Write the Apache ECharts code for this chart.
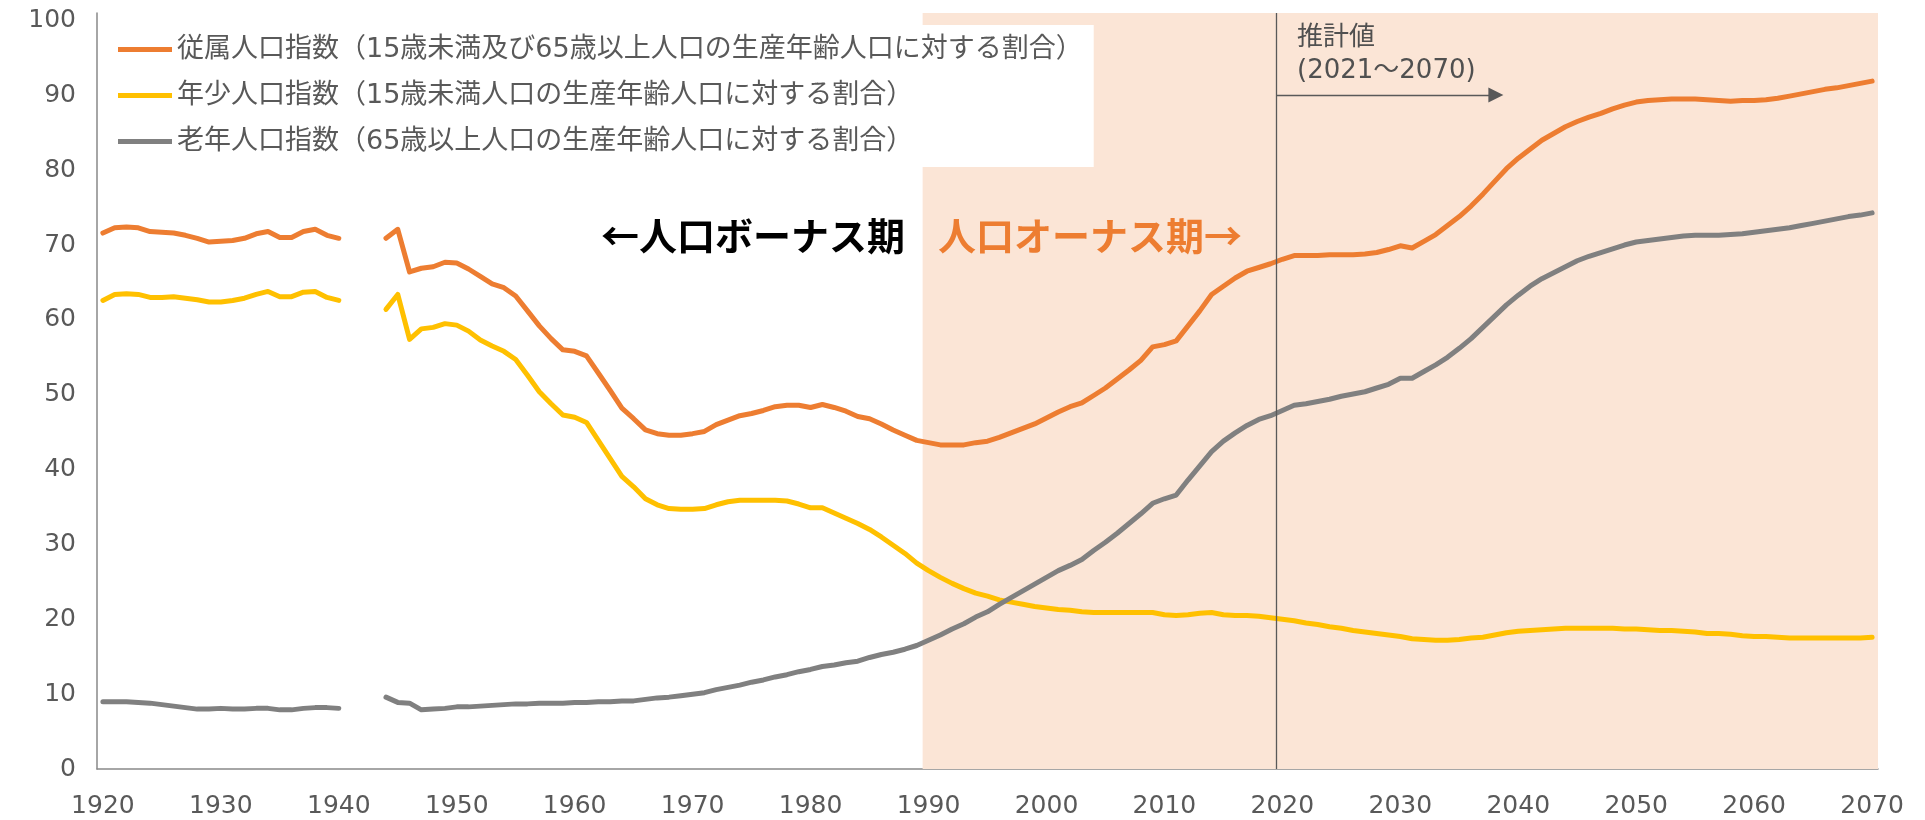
<!DOCTYPE html>
<html lang="ja">
<head>
<meta charset="UTF-8">
<title>従属人口指数の推移</title>
<script src="https://cdn.jsdelivr.net/npm/echarts@6/dist/echarts.min.js"></script>
<style>
  html, body { margin: 0; padding: 0; background: #fff; }
  #main { width: 1925px; height: 820px; }
</style>
</head>
<body>
<div id="main"></div>
<script>
// 年（カテゴリ）
var years = [];
for (var y = 1920; y <= 2070; y++) { years.push(String(y)); }

// 従属人口指数（1941〜1943はデータなし）
var dependency = [
  71.6, 72.3, 72.4, 72.3, 71.8, 71.7, 71.6, 71.3, 70.9, 70.4,
  70.5, 70.6, 70.9, 71.5, 71.8, 71.0, 71.0, 71.8, 72.1, 71.3,
  70.9, null, null, null, 70.9, 72.1, 66.4, 66.9, 67.1, 67.7,
  67.6, 66.8, 65.8, 64.8, 64.3, 63.2, 61.2, 59.2, 57.5, 56.0,
  55.8, 55.2, 52.9, 50.6, 48.2, 46.8, 45.3, 44.8, 44.6, 44.6,
  44.8, 45.1, 46.0, 46.6, 47.2, 47.5, 47.9, 48.4, 48.6, 48.6,
  48.3, 48.7, 48.3, 47.8, 47.1, 46.8, 46.1, 45.3, 44.6, 43.9,
  43.6, 43.3, 43.3, 43.3, 43.6, 43.8, 44.3, 44.9, 45.5, 46.1,
  46.9, 47.7, 48.4, 48.9, 49.9, 50.9, 52.1, 53.3, 54.6, 56.4,
  56.7, 57.2, 59.2, 61.2, 63.4, 64.5, 65.6, 66.5, 67.0, 67.5,
  68.1, 68.6, 68.6, 68.6, 68.7, 68.7, 68.7, 68.8, 69.0, 69.4,
  69.9, 69.6, 70.5, 71.4, 72.6, 73.8, 75.2, 76.8, 78.5, 80.2,
  81.6, 82.8, 84.0, 84.9, 85.8, 86.5, 87.1, 87.6, 88.2, 88.7,
  89.1, 89.3, 89.4, 89.5, 89.5, 89.5, 89.4, 89.3, 89.2, 89.3,
  89.3, 89.4, 89.6, 89.9, 90.2, 90.5, 90.8, 91.0, 91.3, 91.6,
  91.9
];

// 年少人口指数
var youth = [
  62.6, 63.4, 63.5, 63.4, 63.0, 63.0, 63.1, 62.9, 62.7, 62.4,
  62.4, 62.6, 62.9, 63.4, 63.8, 63.1, 63.1, 63.7, 63.8, 63.0,
  62.6, null, null, null, 61.4, 63.4, 57.4, 58.8, 59.0, 59.5,
  59.3, 58.5, 57.3, 56.5, 55.8, 54.7, 52.6, 50.4, 48.8, 47.3,
  47.0, 46.3, 43.9, 41.5, 39.1, 37.7, 36.1, 35.3, 34.8, 34.7,
  34.7, 34.8, 35.3, 35.7, 35.9, 35.9, 35.9, 35.9, 35.8, 35.4,
  34.9, 34.9, 34.2, 33.5, 32.8, 32.0, 31.0, 29.9, 28.8, 27.5,
  26.5, 25.6, 24.8, 24.1, 23.5, 23.1, 22.6, 22.3, 22.0, 21.7,
  21.5, 21.3, 21.2, 21.0, 20.9, 20.9, 20.9, 20.9, 20.9, 20.9,
  20.6, 20.5, 20.6, 20.8, 20.9, 20.6, 20.5, 20.5, 20.4, 20.2,
  20.0, 19.8, 19.5, 19.3, 19.0, 18.8, 18.5, 18.3, 18.1, 17.9,
  17.7, 17.4, 17.3, 17.2, 17.2, 17.3, 17.5, 17.6, 17.9, 18.2,
  18.4, 18.5, 18.6, 18.7, 18.8, 18.8, 18.8, 18.8, 18.8, 18.7,
  18.7, 18.6, 18.5, 18.5, 18.4, 18.3, 18.1, 18.1, 18.0, 17.8,
  17.7, 17.7, 17.6, 17.5, 17.5, 17.5, 17.5, 17.5, 17.5, 17.5,
  17.6
];

// 老年人口指数
var elderly = [
  9.0, 9.0, 9.0, 8.9, 8.8, 8.6, 8.4, 8.2, 8.0, 8.0,
  8.1, 8.0, 8.0, 8.1, 8.1, 7.9, 7.9, 8.1, 8.2, 8.2,
  8.1, null, null, null, 9.6, 8.9, 8.8, 7.9, 8.0, 8.1,
  8.3, 8.3, 8.4, 8.5, 8.6, 8.7, 8.7, 8.8, 8.8, 8.8,
  8.9, 8.9, 9.0, 9.0, 9.1, 9.1, 9.3, 9.5, 9.6, 9.8,
  10.0, 10.2, 10.6, 10.9, 11.2, 11.6, 11.9, 12.3, 12.6, 13.0,
  13.3, 13.7, 13.9, 14.2, 14.4, 14.9, 15.3, 15.6, 16.0, 16.5,
  17.2, 17.9, 18.7, 19.4, 20.3, 21.0, 22.0, 22.9, 23.8, 24.7,
  25.6, 26.5, 27.2, 28.0, 29.2, 30.3, 31.5, 32.8, 34.1, 35.5,
  36.1, 36.6, 38.6, 40.5, 42.4, 43.8, 44.9, 45.9, 46.7, 47.2,
  47.9, 48.6, 48.8, 49.1, 49.4, 49.8, 50.1, 50.4, 50.9, 51.4,
  52.2, 52.2, 53.1, 54.0, 55.0, 56.2, 57.5, 59.0, 60.5, 62.0,
  63.3, 64.5, 65.5, 66.3, 67.1, 67.9, 68.5, 69.0, 69.5, 70.0,
  70.4, 70.6, 70.8, 71.0, 71.2, 71.3, 71.3, 71.3, 71.4, 71.5,
  71.7, 71.9, 72.1, 72.3, 72.6, 72.9, 73.2, 73.5, 73.8, 74.0,
  74.3
];

var seriesNames = [
  '従属人口指数（15歳未満及び65歳以上人口の生産年齢人口に対する割合）',
  '年少人口指数（15歳未満人口の生産年齢人口に対する割合）',
  '老年人口指数（65歳以上人口の生産年齢人口に対する割合）'
];
var colors = ['#ED7D31', '#FFC000', '#808080'];

// 注記用（年の境界は .5）
var onusStart = 1989.5;
var onusEnd = 2070.5;
var forecastStart = 2019.5;
var arrowEnd = 2038.1;
var arrowLevel = 90.05;

var latin = '"DejaVu Sans", "Noto Sans CJK JP", sans-serif';
var cjk = '"Noto Sans CJK JP", sans-serif';

var myChart = echarts.init(document.getElementById('main'));

function lineSeries(i, data) {
  return {
    name: seriesNames[i],
    type: 'line',
    data: data,
    symbol: 'none',
    connectNulls: false,
    smooth: false,
    silent: true,
    emphasis: { disabled: true },
    lineStyle: { color: colors[i], width: 5, cap: 'round', join: 'round' },
    itemStyle: { color: colors[i] }
  };
}

myChart.setOption({
  animation: false,
  grid: { left: 97, right: 47, top: 13, bottom: 51 },
  legend: {
    orient: 'vertical',
    left: 106,
    top: 25,
    padding: [11, 11, 12, 12],
    itemGap: 19,
    itemWidth: 54,
    itemHeight: 5,
    icon: 'rect',
    backgroundColor: '#ffffff',
    selectedMode: false,
    textStyle: { fontSize: 27, color: '#595959', fontFamily: latin },
    data: seriesNames
  },
  xAxis: [{
    type: 'category',
    data: years,
    boundaryGap: true,
    axisLine: { lineStyle: { color: '#898989', width: 1.5 } },
    axisTick: {
      inside: true, length: 9,
      interval: function (i) { return i % 10 === 0; },
      lineStyle: { color: '#898989', width: 1.5 }
    },
    axisLabel: { interval: 9, fontSize: 25, color: '#595959', margin: 25, fontFamily: latin },
    splitLine: { show: false }
  }, {
    type: 'value',
    min: 1919.5,
    max: 2070.5,
    show: false
  }],
  yAxis: {
    type: 'value',
    min: 0,
    max: 101,
    interval: 10,
    axisLine: { show: true, lineStyle: { color: '#898989', width: 1.5 } },
    axisTick: { show: false },
    splitLine: { show: false },
    axisLabel: {
      fontSize: 25, color: '#595959', margin: 21, fontFamily: latin,
      formatter: function (v) { return v % 10 === 0 ? String(v) : ''; }
    }
  },
  series: [
    {
      name: 'annotation',
      type: 'line',
      xAxisIndex: 1,
      data: [],
      silent: true,
      markArea: {
        silent: true,
        itemStyle: { color: '#FBE5D6' },
        data: [[{ xAxis: onusStart }, { xAxis: onusEnd }]]
      },
      markLine: {
        silent: true,
        symbol: ['none', 'none'],
        label: { show: false },
        lineStyle: { color: '#595959', width: 1.3, type: 'solid' },
        data: [
          { xAxis: forecastStart },
          [
            { coord: [forecastStart, arrowLevel], symbol: 'none' },
            { coord: [arrowEnd, arrowLevel], symbol: 'triangle', symbolSize: 15 }
          ]
        ]
      }
    },
    lineSeries(0, dependency),
    lineSeries(1, youth),
    lineSeries(2, elderly)
  ],
  graphic: [
    {
      type: 'text', x: 753, y: 236, silent: true, z: 100,
      style: { text: '←人口ボーナス期', fill: '#000000', fontSize: 38, fontWeight: 'bold', fontFamily: cjk, align: 'center', verticalAlign: 'middle' }
    },
    {
      type: 'text', x: 1090, y: 236, silent: true, z: 100,
      style: { text: '人口オーナス期→', fill: '#ED7D31', fontSize: 38, fontWeight: 'bold', fontFamily: cjk, align: 'center', verticalAlign: 'middle' }
    },
    {
      type: 'text', x: 1297, y: 35, silent: true, z: 100,
      style: { text: '推計値', fill: '#505050', fontSize: 26, fontFamily: cjk, align: 'left', verticalAlign: 'middle' }
    },
    {
      type: 'text', x: 1297, y: 71, silent: true, z: 100,
      style: { text: '(2021～2070)', fill: '#505050', fontSize: 26, fontFamily: latin, align: 'left', verticalAlign: 'middle' }
    }
  ]
});
</script>
</body>
</html>
